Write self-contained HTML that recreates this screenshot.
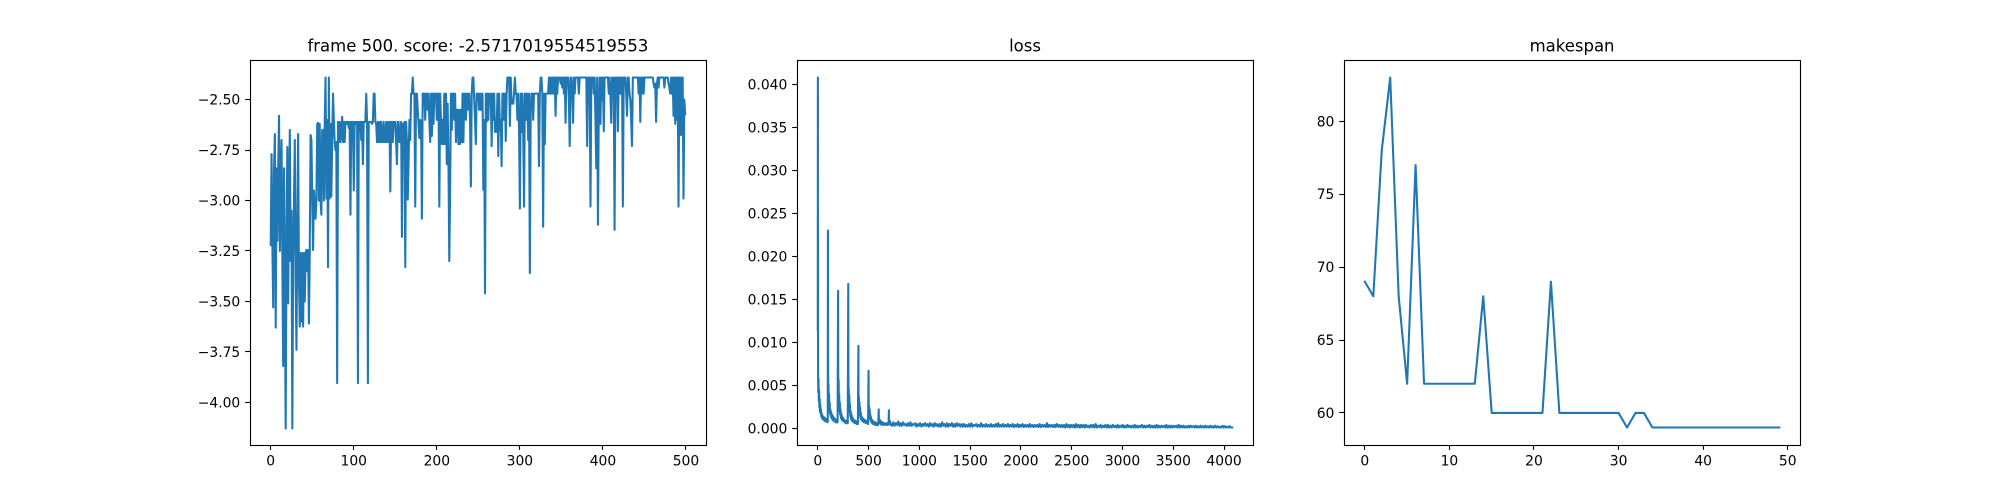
<!DOCTYPE html>
<html lang="en">
<head>
<meta charset="utf-8">
<title>Training charts</title>
<style>
html,body{margin:0;padding:0;background:#fff;width:2000px;height:500px;overflow:hidden}
svg{display:block}
text{font-family:"DejaVu Sans","Liberation Sans",sans-serif;fill:#000}
.tick-label{font-size:13.89px}
.title{font-size:16.5px;text-anchor:middle}
</style>
</head>
<body>
<svg id="figure" xmlns="http://www.w3.org/2000/svg" width="2000" height="500" viewBox="0 0 2000 500">
  <rect x="0" y="0" width="2000" height="500" fill="#ffffff"/>
  <g id="score-axes"></g>
  <g id="loss-axes"></g>
  <g id="makespan-axes"></g>
  <text class="title" x="477.94" y="51.7">frame 500. score: -2.5717019554519553</text>
  <text class="title" x="1025" y="51.7">loss</text>
  <text class="title" x="1572.06" y="51.7">makespan</text>
</svg>
<script>
const scoreValues = [
-3.22,-2.77,-3.22,-3.53,-2.85,-2.67,-3.63,-2.84,-3.2,-2.84,
-2.58,-3.25,-2.95,-2.70,-3.3,-3.82,-2.84,-3.4,-4.13,-3.2,
-2.735,-3.51,-3.0,-2.65,-3.3,-3.05,-4.13,-3.3,-3.0,-2.70,
-3.4,-3.74,-3.1,-2.67,-3.4,-3.625,-3.26,-3.6,-3.26,-3.625,
-3.26,-3.5,-3.26,-3.245,-3.35,-3.245,-3.61,-3.25,-2.675,-2.7,
-3.0,-3.245,-2.95,-3.02,-3.09,-3.0,-2.62,-2.615,-3.0,-2.62,
-3.0,-3.07,-2.65,-2.65,-3.0,-2.62,-2.39,-2.99,-2.6,-3.33,
-2.39,-2.99,-2.62,-2.98,-2.7,-2.47,-2.6,-2.71,-2.75,-2.71,
-3.905,-2.61,-2.71,-2.61,-2.71,-2.65,-2.585,-2.71,-2.61,-2.71,
-2.61,-2.61,-2.62,-2.61,-2.64,-2.61,-3.07,-2.61,-2.62,-2.61,
-2.95,-2.61,-2.62,-2.61,-2.61,-3.905,-2.61,-2.62,-2.61,-2.70,
-2.61,-2.82,-2.61,-2.61,-2.61,-2.47,-2.61,-3.905,-2.61,-2.61,
-2.61,-2.61,-2.62,-2.61,-2.47,-2.47,-2.61,-2.62,-2.71,-2.61,
-2.71,-2.61,-2.71,-2.61,-2.71,-2.71,-2.61,-2.71,-2.71,-2.61,
-2.71,-2.61,-2.71,-2.61,-2.955,-2.61,-2.61,-2.71,-2.61,-2.61,
-2.61,-2.71,-2.82,-2.61,-2.61,-2.71,-2.71,-2.61,-3.18,-2.62,
-2.71,-2.61,-3.33,-2.61,-2.71,-2.995,-2.80,-2.6,-2.7,-2.47,
-2.47,-2.39,-2.47,-2.47,-3.03,-2.47,-2.47,-2.55,-2.62,-2.69,
-2.60,-2.61,-3.09,-2.47,-2.47,-2.47,-2.60,-2.47,-2.47,-2.55,
-2.47,-2.6,-2.71,-2.47,-2.68,-2.47,-2.62,-2.47,-2.47,-2.47,
-2.6,-2.47,-2.47,-3.03,-2.47,-2.6,-2.72,-2.6,-2.72,-2.47,
-2.72,-2.47,-2.82,-2.52,-2.8,-3.30,-2.95,-2.47,-2.65,-2.47,
-2.47,-2.6,-2.47,-2.71,-2.55,-2.55,-2.72,-2.55,-2.72,-2.55,
-2.71,-2.47,-2.71,-2.47,-2.47,-2.60,-2.47,-2.55,-2.47,-2.47,
-2.6,-2.93,-2.47,-2.39,-2.39,-2.5,-2.6,-2.72,-2.47,-2.47,
-2.47,-2.55,-2.47,-2.55,-2.47,-2.47,-2.947,-2.6,-3.46,-2.47,
-2.61,-2.47,-2.6,-2.47,-2.5,-2.47,-2.73,-2.47,-2.6,-2.47,
-2.66,-2.6,-2.66,-2.47,-2.78,-2.47,-2.65,-2.6,-2.83,-2.47,
-2.47,-2.6,-2.47,-2.705,-2.47,-2.39,-2.39,-2.39,-2.63,-2.39,
-2.52,-2.5,-2.52,-2.47,-2.39,-2.47,-2.47,-2.6,-2.47,-2.65,
-3.04,-2.47,-2.66,-2.47,-2.65,-3.03,-2.47,-2.47,-2.6,-2.47,
-2.7,-2.47,-3.36,-2.56,-2.47,-2.47,-2.6,-2.47,-2.47,-2.47,
-2.47,-2.47,-2.47,-2.83,-2.47,-2.39,-2.39,-2.47,-3.13,-2.47,
-2.72,-2.47,-2.47,-2.47,-2.47,-2.39,-2.47,-2.39,-2.47,-2.39,
-2.47,-2.39,-2.39,-2.58,-2.39,-2.47,-2.39,-2.39,-2.39,-2.42,
-2.39,-2.44,-2.39,-2.47,-2.39,-2.615,-2.39,-2.39,-2.39,-2.5,
-2.73,-2.39,-2.39,-2.47,-2.615,-2.39,-2.47,-2.39,-2.39,-2.39,
-2.39,-2.47,-2.39,-2.39,-2.39,-2.39,-2.39,-2.39,-2.39,-2.39,
-2.39,-2.73,-2.39,-2.47,-2.39,-3.03,-2.39,-2.39,-2.39,-2.47,
-2.39,-2.6,-2.84,-2.39,-3.12,-2.55,-2.39,-2.62,-2.39,-2.5,
-2.39,-2.657,-2.39,-2.39,-2.39,-2.39,-2.39,-2.47,-2.39,-2.47,
-2.615,-2.39,-2.47,-2.39,-3.145,-2.39,-2.47,-2.39,-2.657,-2.39,
-2.39,-2.47,-2.39,-2.39,-3.03,-2.39,-2.39,-2.39,-2.47,-2.58,
-2.39,-2.39,-2.47,-2.5,-2.6,-2.73,-2.39,-2.39,-2.39,-2.39,
-2.39,-2.39,-2.39,-2.47,-2.39,-2.61,-2.39,-2.47,-2.39,-2.47,
-2.39,-2.39,-2.39,-2.39,-2.39,-2.39,-2.39,-2.39,-2.39,-2.39,
-2.39,-2.42,-2.44,-2.42,-2.61,-2.42,-2.39,-2.44,-2.39,-2.39,
-2.39,-2.39,-2.39,-2.39,-2.44,-2.39,-2.39,-2.39,-2.39,-2.42,
-2.44,-2.47,-2.39,-2.47,-2.39,-2.58,-2.39,-2.62,-2.39,-2.60,
-2.39,-3.03,-2.39,-2.675,-2.39,-2.675,-2.39,-2.99,-2.5,-2.5717
];
const scoreXTicks = [0,100,200,300,400,500];
const scoreYTicks = [-2.5,-2.75,-3,-3.25,-3.5,-3.75,-4];

const lossHeadSteps = [
0,1,2,3,5,7,10,13,16,19,22,25,28,31,34,37,40,43,46,50,55,60,65,70,75,80,85,90,95,98,
100,101,103,105,108,111,114,117,120,124,128,132,136,140,145,150,155,160,165,170,175,180,185,190,195,
200,201,203,205,208,211,214,217,220,224,228,232,236,240,245,250,255,260,265,270,275,280,285,290,295,
300,301,303,305,308,311,314,317,320,324,328,332,336,340,345,350,355,360,365,370,375,380,385,390,395,
400,401,403,405,408,411,414,417,420,424,428,432,436,440,445,450,455,460,465,470,475,480,485,490,495,
500,501,503,505,508,511,514,517,520,524,528,532,536,540,545,550,555,560,565,570,575,580,585,590,595,
600,601,603,606,610,615,620,625,630,640,650,660,670,680,690,697,
700,701,703,706,710,714,717
];
const lossHeadValues = [
.0115,.0408,.012,.0062,.0042,.0058,.0032,.0045,.0024,.0034,.0019,.0028,.0017,.0022,.0014,.0018,.0013,.0016,.0011,.0014,.0010,.0013,.0009,.0012,.0008,.0011,.0008,.0010,.0007,.0008,
.023,.0085,.0038,.0052,.0028,.0040,.0021,.0030,.0017,.0022,.0014,.0019,.0012,.0016,.0010,.0014,.0009,.0012,.0008,.0011,.0007,.0010,.0007,.0009,.0007,
.016,.0068,.0036,.0056,.0028,.0040,.0020,.0030,.0016,.0022,.0012,.0017,.0010,.0014,.0009,.0012,.0008,.0010,.0007,.0009,.0006,.0009,.0006,.0008,.0006,
.0168,.0075,.0034,.0046,.0026,.0038,.0019,.0028,.0014,.0020,.0011,.0016,.0009,.0013,.0008,.0011,.0007,.0009,.0006,.0009,.0006,.0008,.0005,.0008,.0005,
.0096,.0042,.0026,.0036,.0020,.0030,.0015,.0024,.0012,.0018,.0010,.0014,.0009,.0012,.0008,.0011,.0007,.0010,.0007,.0009,.0006,.0009,.0006,.0008,.0005,
.0067,.0030,.0018,.0026,.0014,.0022,.0011,.0016,.0009,.0013,.0007,.0010,.0006,.0009,.0005,.0008,.0005,.0007,.0004,.0007,.0004,.0006,.0004,.0006,.0004,
.0022,.0013,.0007,.0011,.0006,.0009,.0005,.0008,.0004,.0007,.0004,.0006,.0004,.0006,.0004,.0005,
.0021,.0010,.0006,.0009,.0005,.0008,.0004
];
const lossTailStart = 720;
const lossTailStride = 12;
const lossTailValues = [
.0005,.0003,.0007,.0003,.0006,.0004,.0008,.0003,.0006,.0003,.0007,.0004,.0005,.0003,.0006,.0003,.0007,.0003,.0005,.0004,
.0006,.0002,.0005,.0003,.0006,.0002,.0005,.0003,.0006,.0003,.0005,.0002,.0006,.0003,.0005,.0002,.0006,.0003,.0005,.0002,
.0005,.0002,.0007,.0003,.0005,.0002,.0006,.0002,.0005,.0003,.0006,.0002,.0005,.0002,.0006,.0003,.0005,.0002,.0005,.0002,
.0005,.0002,.0004,.0002,.0005,.0002,.0006,.0002,.0004,.0003,.0005,.0002,.0004,.0002,.0006,.0002,.0004,.0002,.0005,.0002,
.0004,.0002,.0005,.0002,.0004,.0002,.0005,.0002,.0006,.0002,.0004,.0002,.0005,.0002,.0004,.0002,.0005,.0002,.0004,.0002,
.0005,.00015,.0004,.0002,.0005,.00015,.0004,.0002,.0005,.00015,.0004,.0002,.0004,.00015,.0005,.0002,.0004,.00015,.0004,.0002,
.0004,.00015,.0005,.00015,.0004,.0002,.0004,.00015,.0006,.00015,.0004,.0002,.0004,.00015,.0004,.00015,.0005,.0002,.0004,.00015,
.0004,.00015,.0004,.0001,.0005,.00015,.0004,.0001,.0004,.00015,.0004,.0001,.0005,.00015,.0004,.0001,.0004,.00015,.0004,.0001,
.0004,.00015,.0003,.0001,.0004,.00015,.0004,.0001,.0005,.0001,.0003,.00015,.0004,.0001,.0003,.00015,.0004,.0001,.0004,.0001,
.0003,.0001,.0004,.00015,.0003,.0001,.0004,.0001,.0003,.00015,.0004,.0001,.0003,.0001,.0004,.00015,.0003,.0001,.0003,.0001,
.0004,.0001,.0003,.0001,.0003,.00015,.0004,.0001,.0003,.0001,.0003,.00015,.0004,.0001,.0003,.0001,.0003,.0001,.0004,.0001,
.0003,.0001,.0003,.00015,.0003,.0001,.0004,.0001,.0003,.0001,.0003,.0001,.0003,.00015,.0003,.0001,.0004,.0001,.0003,.0001,
.0003,.0001,.00025,.0001,.0003,.0001,.0003,.00015,.00025,.0001,.0003,.0001,.00025,.0001,.0003,.0001,.00025,.0001,.0003,.0001,
.00025,.0001,.0003,.0001,.00025,.0001,.0003,.0001,.00025,.0001,.0002,.0001,.0003,.0001,.00025,.0001,.0002,.0001,.00025,.0001,
.0001
];
const lossXTicks = [0,500,1000,1500,2000,2500,3000,3500,4000];
const lossYTicks = [0,0.005,0.01,0.015,0.02,0.025,0.03,0.035,0.04];

const makespanValues = [69,68,78,83,68,62,77,62,62,62,62,62,62,62,68,60,60,60,60,60,60,60,69,60,60,60,60,60,60,60,60,59,60,60,59,59,59,59,59,59,59,59,59,59,59,59,59,59,59,59];
const makespanXTicks = [0,10,20,30,40,50];
const makespanYTicks = [60,65,70,75,80];

const SVG_NS = 'http://www.w3.org/2000/svg';
const axTop = 60, axBottom = 445, axWidth = 455.88, pad = 0.05 / 1.1;

function scaleLinear(d0, d1, r0, r1) {
  return v => r0 + (v - d0) * (r1 - r0) / (d1 - d0);
}
function snap(v) {
  return Math.round(v - 0.5) + 0.5;
}

function drawAxes(cfg) {
  const g = document.getElementById(cfg.id);
  const left = cfg.left, right = left + axWidth;
  const sx = scaleLinear(cfg.xMin, cfg.xMax, left + axWidth * pad, right - axWidth * pad);
  const plotH = axBottom - axTop;
  const sy = scaleLinear(cfg.yMin, cfg.yMax, axBottom - plotH * pad, axTop + plotH * pad);

  const pts = cfg.xs.map((x, i) => sx(x).toFixed(2) + ',' + sy(cfg.ys[i]).toFixed(2)).join(' ');
  const line = document.createElementNS(SVG_NS, 'polyline');
  
  
  line.setAttribute('points', pts);
  line.setAttribute('fill', 'none');
  line.setAttribute('stroke', '#1f77b4');
  line.setAttribute('stroke-width', '2.08');
  line.setAttribute('stroke-linejoin', 'round');
  line.setAttribute('stroke-linecap', 'square');
  g.appendChild(line);

  cfg.xTicks.forEach(t => {
    const px = snap(sx(t));
    const mark = document.createElementNS(SVG_NS, 'line');
    
    
    mark.setAttribute('x1', px);
    mark.setAttribute('x2', px);
    mark.setAttribute('y1', axBottom);
    mark.setAttribute('y2', axBottom + 4.86);
    mark.setAttribute('stroke', '#000');
    mark.setAttribute('stroke-width', '1.11');
    g.appendChild(mark);
    const label = document.createElementNS(SVG_NS, 'text');
    
    
    label.setAttribute('class', 'tick-label');
    label.setAttribute('x', sx(t));
    label.setAttribute('y', 465.5);
    label.setAttribute('text-anchor', 'middle');
    label.textContent = String(t);
    g.appendChild(label);
  });

  cfg.yTicks.forEach(t => {
    const py = snap(sy(t));
    const mark = document.createElementNS(SVG_NS, 'line');
    
    
    mark.setAttribute('x1', left - 4.86);
    mark.setAttribute('x2', left);
    mark.setAttribute('y1', py);
    mark.setAttribute('y2', py);
    mark.setAttribute('stroke', '#000');
    mark.setAttribute('stroke-width', '1.11');
    g.appendChild(mark);
    const label = document.createElementNS(SVG_NS, 'text');
    
    
    label.setAttribute('class', 'tick-label');
    label.setAttribute('x', left - 9.72);
    label.setAttribute('y', sy(t) + 5.05);
    label.setAttribute('text-anchor', 'end');
    label.textContent = cfg.yFormat(t);
    g.appendChild(label);
  });

  const frame = document.createElementNS(SVG_NS, 'rect');
  
  
  frame.setAttribute('x', snap(left));
  frame.setAttribute('y', snap(axTop));
  frame.setAttribute('width', Math.round(axWidth));
  frame.setAttribute('height', axBottom - axTop);
  frame.setAttribute('fill', 'none');
  frame.setAttribute('stroke', '#000');
  frame.setAttribute('stroke-width', '1.11');
  g.appendChild(frame);
}

const lossTailSteps = lossTailValues.map((v, i) => lossTailStart + i * lossTailStride);
const lossSteps = lossHeadSteps.concat(lossTailSteps);
const lossValues = lossHeadValues.concat(lossTailValues);
const minusSign = s => s.replace('-', '\u2212');

drawAxes({
  id: 'score-axes', left: 250,
  xs: scoreValues.map((v, i) => i), ys: scoreValues,
  xMin: 0, xMax: 499, yMin: -4.125, yMax: -2.39,
  xTicks: scoreXTicks, yTicks: scoreYTicks,
  yFormat: t => minusSign(t.toFixed(2))
});
drawAxes({
  id: 'loss-axes', left: 797.06,
  xs: lossSteps, ys: lossValues,
  xMin: 0, xMax: 4080, yMin: 0.0001, yMax: 0.0408,
  xTicks: lossXTicks, yTicks: lossYTicks,
  yFormat: t => t.toFixed(3)
});
drawAxes({
  id: 'makespan-axes', left: 1344.12,
  xs: makespanValues.map((v, i) => i), ys: makespanValues,
  xMin: 0, xMax: 49, yMin: 59, yMax: 83,
  xTicks: makespanXTicks, yTicks: makespanYTicks,
  yFormat: t => String(t)
});
</script>
</body>
</html>
